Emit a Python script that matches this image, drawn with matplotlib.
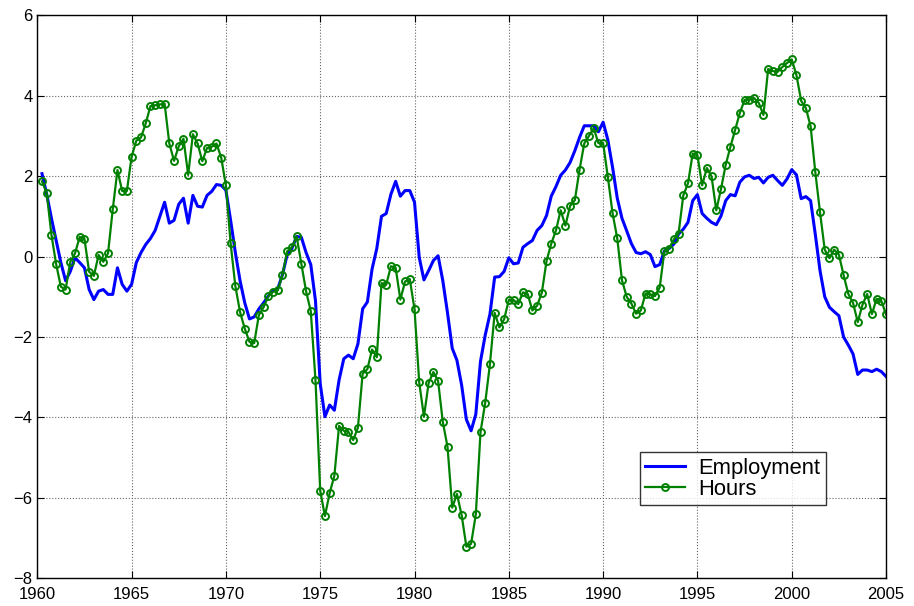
import numpy as np
import matplotlib
matplotlib.use('Agg')
import matplotlib.pyplot as plt

plt.rcParams['font.family'] = ['Liberation Sans', 'DejaVu Sans']

# quarterly dates, 1960Q1 plotted at 1960.25 ... 2004Q4 at 2005.0
quarters = np.arange(1960.25, 2005.01, 0.25)

employment = [
    2.06, 1.55, 0.95, 0.4, -0.15, -0.6, -0.37, -0.03, -0.15, -0.28,
    -0.82, -1.07, -0.86, -0.82, -0.94, -0.94, -0.28, -0.69, -0.86, -0.69,
    -0.15, 0.1, 0.3,
    0.45, 0.65, 1.0, 1.35, 0.83, 0.9, 1.3, 1.45, 0.83, 1.52,
    1.25, 1.23, 1.52, 1.62, 1.79, 1.77, 1.65, 0.9, 0.1, -0.6, -1.15,
    -1.55, -1.5, -1.3, -1.15, -0.98, -0.85, -0.8, -0.45, 0.05, 0.2,
    0.5, 0.48, 0.1, -0.2, -1.1, -3.16, -3.98, -3.69, -3.82, -3.07, -2.54, -2.45,
    -2.54, -2.17, -1.3, -1.13, -0.31, 0.2, 1.0, 1.07, 1.55, 1.87,
    1.5, 1.64, 1.64, 1.35, -0.02, -0.58, -0.35, -0.1, 0.02, -0.6,
    -1.4, -2.28, -2.58,
    -3.2, -4.05, -4.33, -3.92, -2.6, -1.95, -1.43, -0.51, -0.5, -0.37,
    -0.03, -0.18, -0.16, 0.23, 0.32, 0.4, 0.65, 0.77, 1.02, 1.5,
    1.74, 2.02, 2.15,
    2.34, 2.63, 2.96, 3.25, 3.25, 3.25, 3.1, 3.34, 2.9, 2.22,
    1.45, 0.95, 0.64, 0.32, 0.1, 0.07, 0.12, 0.05, -0.25, -0.2, 0.14, 0.2,
    0.31, 0.56, 0.68, 0.85, 1.39, 1.54, 1.07, 0.95, 0.85, 0.79,
    1.01, 1.39, 1.54, 1.51, 1.85, 1.98, 2.02, 1.94, 1.97, 1.83, 1.97, 2.02,
    1.89, 1.77, 1.93, 2.16, 2.03, 1.44, 1.49, 1.39, 0.55, -0.35,
    -1.0, -1.26, -1.37, -1.47, -2.0, -2.2, -2.42, -2.93, -2.82, -2.82,
    -2.86, -2.8, -2.86, -2.98,
]

hours = [
    1.87, 1.58, 0.54, -0.19, -0.75, -0.82, -0.13, 0.08, 0.49, 0.44,
    -0.38, -0.48, 0.04, -0.13, 0.08, 1.17, 2.15, 1.63, 1.63, 2.48,
    2.88, 2.96, 3.31,
    3.74, 3.76, 3.78, 3.8, 2.81, 2.38, 2.74, 2.93, 2.03, 3.04,
    2.81, 2.37, 2.7, 2.73, 2.81, 2.46, 1.77, 0.33, -0.73, -1.38,
    -1.79, -2.12, -2.15, -1.45, -1.26, -0.98, -0.88, -0.84, -0.45, 0.13,
    0.23, 0.5, -0.18, -0.86, -1.36, -3.07, -5.82, -6.45, -5.88, -5.45,
    -4.21, -4.33, -4.36,
    -4.56, -4.25, -2.91, -2.8, -2.31, -2.5, -0.66, -0.7, -0.24, -0.28,
    -1.07, -0.62, -0.56, -1.31, -3.13, -3.98, -3.14, -2.87, -3.09, -4.11,
    -4.73, -6.24, -5.9,
    -6.43, -7.21, -7.14, -6.41, -4.36, -3.63, -2.67, -1.4, -1.76, -1.56,
    -1.08, -1.08, -1.18, -0.89, -0.93, -1.34, -1.22, -0.9, -0.11, 0.32,
    0.65, 1.15, 0.77,
    1.26, 1.4, 2.16, 2.81, 3.0, 3.19, 2.82, 2.82, 1.98, 1.08,
    0.45, -0.59, -1.0, -1.17, -1.42, -1.34, -0.92, -0.94, -0.98, -0.77,
    0.14, 0.2,
    0.43, 0.57, 1.52, 1.82, 2.56, 2.52, 1.77, 2.2, 1.99, 1.15,
    1.68, 2.28, 2.73, 3.15, 3.57, 3.89, 3.9, 3.94, 3.82, 3.52,
    4.66, 4.61,
    4.59, 4.71, 4.81, 4.9, 4.51, 3.87, 3.69, 3.24, 2.1, 1.1,
    0.17, -0.04, 0.17, 0.05, -0.46, -0.93, -1.15, -1.63, -1.2, -0.93,
    -1.43, -1.05, -1.1, -1.44,
]

x_ticks = np.arange(1960, 2006, 5)
y_ticks = np.arange(-8, 7, 2)

fig = plt.figure(figsize=(9.14, 6.06), dpi=100)
ax = fig.add_axes([0.0408, 0.0455, 0.9286, 0.9295])

ax.plot(quarters, employment, color=(0, 0, 1), lw=2.2, label='Employment')
ax.plot(quarters, hours, color=(0, 0.5, 0), lw=1.6, marker='o', ms=5,
        mfc='none', mec=(0, 0.5, 0), mew=1.4, label='Hours')

ax.set_xlim(1960, 2005)
ax.set_ylim(-8, 6)
ax.set_xticks(x_ticks)
ax.set_yticks(y_ticks)
ax.tick_params(direction='in', length=5, top=True, right=True, labelsize=12, width=0.8)
ax.tick_params(axis='x', pad=6.5)
ax.grid(True, linestyle=':', color='0.4', lw=0.8)
for s in ax.spines.values():
    s.set_linewidth(1.0)

leg = ax.legend(loc='lower left', bbox_to_anchor=(0.71, 0.13), fontsize=15.8,
                frameon=True, fancybox=False, edgecolor='black', borderpad=0.25,
                handlelength=1.8, labelspacing=0.0, handletextpad=0.6,
                borderaxespad=0.0)
leg.get_frame().set_linewidth(1.0)

fig.savefig('out.png', dpi=100)
